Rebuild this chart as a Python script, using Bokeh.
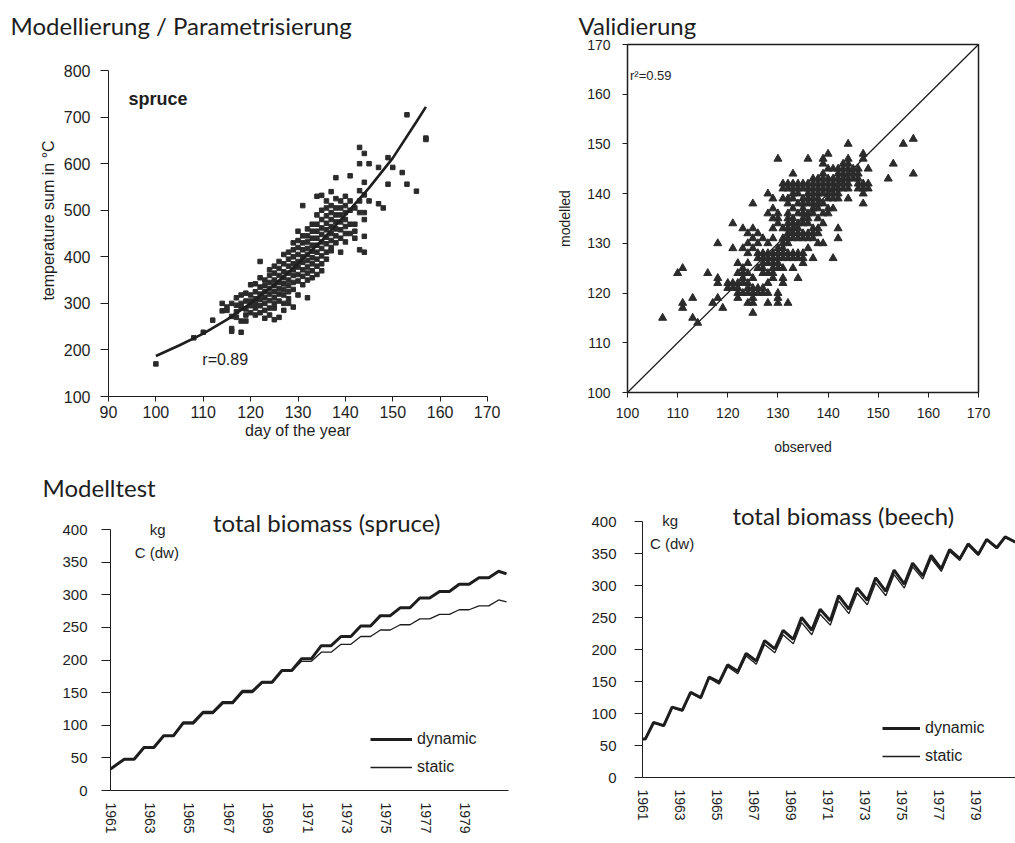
from bokeh.plotting import figure
from bokeh.layouts import column, row
from bokeh.models import Label, Legend, LegendItem, Range1d, FixedTicker, Title
from bokeh.embed import file_html
from bokeh.resources import INLINE

# ---------------------------------------------------------------- data
# spruce: day of bud burst vs. temperature sum (points grouped per day)
bud_days = [100, 108, 110, 112, 114, 115, 116, 117, 118, 119, 120, 121, 122, 123,
            124, 125, 126, 127, 128, 129, 130, 131, 132, 133, 134, 135, 136, 137,
            138, 139, 140, 141, 142, 143, 144, 145, 147, 148, 149, 150, 152, 153,
            155, 157]
bud_tsum = [
    [170], [226], [238], [264], [300, 284], [285, 292], [300, 272, 246, 240],
    [312, 296, 282, 270], [318, 300, 290, 262, 238], [322, 305, 288, 275, 262],
    [340, 318, 305, 295, 280], [342, 325, 310, 300, 290, 275],
    [390, 355, 335, 320, 308, 295, 280], [350, 338, 325, 312, 300, 285, 268],
    [372, 360, 345, 332, 320, 306, 290, 275],
    [380, 365, 350, 338, 325, 312, 300, 290, 265],
    [390, 375, 360, 345, 332, 320, 305, 270],
    [405, 385, 368, 355, 342, 330, 318, 300, 285],
    [410, 395, 380, 365, 350, 338, 325, 310, 300],
    [430, 415, 400, 385, 372, 360, 345, 330, 292],
    [455, 435, 420, 405, 390, 378, 362, 348, 318],
    [510, 445, 430, 415, 400, 388, 372, 358, 340],
    [460, 445, 432, 418, 405, 392, 378, 365, 350, 312],
    [470, 455, 440, 425, 412, 398, 385, 370, 355],
    [530, 490, 470, 455, 440, 425, 410, 395, 380, 362],
    [532, 500, 480, 462, 448, 432, 418, 402, 385, 370],
    [520, 505, 488, 472, 458, 442, 428, 410, 395],
    [540, 510, 495, 480, 465, 450, 435, 420, 413],
    [570, 525, 505, 490, 475, 460, 445, 430],
    [520, 505, 490, 475, 458, 440, 410],
    [530, 510, 495, 480, 465, 450, 432],
    [574, 520, 500, 470, 450], [505, 470, 455, 440],
    [635, 600, 542, 520, 495, 415], [622, 560, 533, 495, 480, 444, 410],
    [600, 520], [592, 514], [505], [613, 556], [592], [581], [556, 705],
    [541], [655, 652],
]
# fitted temperature-sum curve
fit_days = [100, 105, 110, 115, 120, 125, 130, 135, 140, 145, 150, 155, 157]
fit_tsum = [187, 210, 235, 265, 300, 340, 385, 435, 490, 548, 612, 690, 722]

# validation: observed vs. modelled day of bud burst (grouped per observed day)
obs_days = [107, 110, 111, 113, 114, 116, 117, 118, 119, 120, 121, 122, 123, 124,
            125, 126, 127, 128, 129, 130, 131, 132, 133, 134, 135, 136, 137, 138,
            139, 140, 141, 142, 143, 144, 145, 146, 147, 148, 152, 153, 155, 157]
mod_days = [
    [115], [124], [125, 118, 117], [119, 115], [114], [124], [118],
    [130, 123, 122, 119], [117], [122, 121], [134, 129, 122, 121],
    [126, 124, 122, 121, 120, 119], [133, 129, 125, 124, 123, 122, 120],
    [132, 130, 128, 126, 124, 122, 121, 120, 118],
    [138, 133, 131, 129, 123, 121, 120, 119, 118, 116],
    [132, 130, 128, 127, 125, 121, 120],
    [131, 128, 127, 126, 125, 124, 121, 120],
    [140, 136, 130, 128, 127, 126, 124, 122, 120, 118],
    [139, 137, 135, 133, 131, 128, 127, 126, 125, 124, 123],
    [147, 136, 135, 134, 129, 128, 127, 126, 125, 120, 119, 118],
    [142, 141, 139, 133, 131, 130, 129, 128, 127, 125, 123, 122],
    [142, 141, 139, 138, 136, 135, 134, 133, 132, 131, 130, 128, 127, 118],
    [144, 142, 141, 140, 139, 137, 135, 134, 133, 132, 131, 128, 127, 125],
    [142, 141, 140, 138, 136, 134, 133, 132, 131, 128, 127, 123],
    [142, 141, 139, 138, 137, 136, 135, 134, 132, 131, 128, 127, 126],
    [147, 142, 141, 140, 139, 138, 136, 135, 134, 132, 131, 129],
    [143, 142, 141, 140, 139, 138, 137, 136, 133, 132, 131, 127],
    [143, 142, 141, 140, 139, 138, 137, 135, 133, 132, 130],
    [147, 146, 144, 143, 142, 141, 140, 138, 136, 134, 130],
    [148, 145, 143, 142, 141, 140, 139, 137, 136],
    [145, 143, 142, 141, 140, 139, 137, 127],
    [145, 144, 143, 142, 141, 140, 139, 133, 131],
    [146, 145, 144, 143, 142, 141],
    [150, 147, 146, 145, 144, 143, 142, 141, 139],
    [145, 144, 143], [145, 144, 143, 142, 141],
    [148, 147, 142, 141, 140, 138], [145, 142, 141], [143], [146], [150],
    [151, 144],
]
one_to_one = [100, 170]

# total biomass, kg C (dw), 1961-1980
years = list(range(1961, 1981))
spruce_start = 33
spruce_dynamic = [48, 66, 84, 104, 120, 135, 152, 166, 184, 202,
                  222, 236, 252, 268, 280, 295, 305, 316, 326, 336]
spruce_static = [48, 65, 83, 102, 118, 133, 150, 165, 183, 198,
                 212, 224, 236, 246, 254, 263, 270, 277, 283, 292]
spruce_dynamic_end = 332
spruce_static_end = 289

beech_dynamic_peak = [86, 110, 133, 157, 176, 194, 214, 230, 250, 263,
                      284, 296, 312, 324, 335, 347, 356, 365, 372, 376]
beech_dynamic_low = [60, 81, 105, 125, 149, 166, 182, 201, 216, 230, 245,
                     263, 277, 291, 302, 315, 326, 342, 349, 359, 368]
beech_static_peak = [86, 109, 132, 155, 173, 190, 208, 223, 242, 255,
                     276, 288, 304, 317, 329, 342, 353, 363, 371, 375]
beech_static_low = [60, 80, 104, 123, 146, 162, 177, 195, 209, 223, 238,
                    256, 270, 284, 296, 310, 322, 339, 347, 358, 367]

year_ticks = list(range(1961, 1981, 2))

# ---------------------------------------------------------------- style
INK = "#1e1e1e"
HEAD_FONT = "Lato"
HEAD_SIZE = 24
AXIS_FONT = "Liberation Sans"


def base_figure(w, h, xr, yr, left, right, top, bottom):
    p = figure(width=w, height=h, x_range=Range1d(*xr), y_range=Range1d(*yr),
               output_backend="svg", toolbar_location=None,
               min_border_left=left, min_border_right=right,
               min_border_top=top, min_border_bottom=bottom)
    p.grid.visible = False
    p.outline_line_color = None
    p.background_fill_color = "white"
    p.border_fill_color = "white"
    return p


def style_axis(ax, ticks, size, standoff, tick_out, label="", label_size=15,
               label_standoff=5, bounds=None):
    ax.ticker = FixedTicker(ticks=ticks)
    if bounds is not None:
        ax.bounds = bounds
    ax.axis_line_color = INK
    ax.axis_line_width = 1
    ax.major_tick_line_color = INK if tick_out else None
    ax.major_tick_out = tick_out
    ax.major_tick_in = 0
    ax.minor_tick_line_color = None
    ax.major_label_text_font = AXIS_FONT
    ax.major_label_text_font_size = f"{size}px"
    ax.major_label_text_color = INK
    ax.major_label_standoff = standoff
    ax.axis_label = label
    ax.axis_label_text_font = AXIS_FONT
    ax.axis_label_text_font_size = f"{label_size}px"
    ax.axis_label_text_font_style = "normal"
    ax.axis_label_text_color = INK
    ax.axis_label_standoff = label_standoff


def add_text(p, x, y, text, size, font=AXIS_FONT, style="normal", align="left"):
    p.add_layout(Label(x=x, y=y, text=text, text_font=font,
                       text_font_size=f"{size}px", text_font_style=style,
                       text_align=align, text_baseline="middle",
                       text_color=INK))


def add_heading(p, text, offset, standoff):
    p.add_layout(Title(text=text, align="left", offset=offset, standoff=standoff,
                       text_font=HEAD_FONT, text_font_size=f"{HEAD_SIZE}px",
                       text_font_style="normal", text_color=INK), "above")


# ---------------------------------------------------------------- panel 1
# frame top is shared with panel 2; the y axis keeps its own extent
p1 = base_figure(500, 464, (90, 170), (100, 856), 108, 13, 44, 68)
style_axis(p1.xaxis[0], list(range(90, 171, 10)), 16, 4, 5,
           "day of the year", 16, 1)
style_axis(p1.yaxis[0], list(range(100, 801, 100)), 16, 10, 8,
           "temperature sum in °C", 16, 4, bounds=(100, 800))

px = [d for d, vals in zip(bud_days, bud_tsum) for _ in vals]
py = [v for vals in bud_tsum for v in vals]
p1.scatter(px, py, marker="square", size=4.5, color="#2b2b2b")
p1.line(fit_days, fit_tsum, line_width=2.6, color=INK)

add_heading(p1, "Modellierung / Parametrisierung", -98, 10)
add_text(p1, 94.2, 739, "spruce", 18, AXIS_FONT, "bold")
add_text(p1, 109.8, 180, "r=0.89", 16)

# ---------------------------------------------------------------- panel 2
p2 = base_figure(515, 460, (100, 170), (100, 170), 127, 37, 44, 68)
p2.outline_line_color = INK
p2.outline_line_width = 1.5
style_axis(p2.xaxis[0], list(range(100, 171, 10)), 14, 10, 5,
           "observed", 14, 18)
style_axis(p2.yaxis[0], list(range(100, 171, 10)), 14, 12, 5,
           "modelled", 14, 11)

ox = [d for d, vals in zip(obs_days, mod_days) for _ in vals]
oy = [v for vals in mod_days for v in vals]
p2.line(one_to_one, one_to_one, line_width=1.3, color=INK)
p2.scatter(ox, oy, marker="triangle", size=8, color="#2b2b2b")

add_heading(p2, "Validierung", -49, 10)
add_text(p2, 100.5, 163.8, "r²=0.59", 13)


# ---------------------------------------------------------------- biomass
def spruce_series(start, levels, end):
    xs, ys = [years[0]], [start]
    for y, lv in zip(years, levels):
        xs += [y + 0.7, y + 1.2]
        ys += [lv, lv]
    xs[-1], ys[-1] = years[-1] + 1.1, end
    return xs, ys


def beech_series(lows, peaks):
    xs, ys = [years[0]], [lows[0]]
    for k, y in enumerate(years):
        xs += [y + 0.15, y + 0.6]
        ys += [lows[k], peaks[k]]
    xs.append(years[-1] + 1.15)
    ys.append(lows[-1])
    return xs, ys


def biomass_legend(p, r_dyn, r_sta, loc, glyph_w):
    leg = Legend(items=[LegendItem(label="dynamic", renderers=[r_dyn]),
                        LegendItem(label="static", renderers=[r_sta])],
                 location=loc, orientation="vertical",
                 border_line_color=None, background_fill_alpha=0,
                 padding=0, margin=0, spacing=10,
                 glyph_width=glyph_w, glyph_height=18, label_height=18,
                 label_standoff=5, label_text_font=AXIS_FONT,
                 label_text_font_size="16px", label_text_color=INK)
    p.add_layout(leg)


p3 = base_figure(510, 379, (1961, 1981.2), (0, 436.8), 110, 2, 41, 53)
style_axis(p3.xaxis[0], year_ticks, 14, 12, 0)
p3.xaxis[0].major_label_orientation = "vertical"
style_axis(p3.yaxis[0], list(range(0, 401, 50)), 15, 14, 9, bounds=(0, 400))

sx, sy = spruce_series(spruce_start, spruce_dynamic, spruce_dynamic_end)
tx, ty = spruce_series(spruce_start, spruce_static, spruce_static_end)
r_sd = p3.line(sx, sy, line_width=3, color=INK)
r_ss = p3.line(tx, ty, line_width=1.3, color=INK)
biomass_legend(p3, r_sd, r_ss, (260, 14), 42)

add_heading(p3, "Modelltest", -68, 8)
add_text(p3, 1966.2, 410, "total biomass (spruce)", HEAD_SIZE, HEAD_FONT)
add_text(p3, 1963.4, 400, "kg", 15, align="center")
add_text(p3, 1963.35, 365, "C (dw)", 15, align="center")

p4 = base_figure(505, 366, (1961, 1981.16), (0, 425), 132, 0, 41, 53)
style_axis(p4.xaxis[0], year_ticks, 14, 12, 0)
p4.xaxis[0].major_label_orientation = "vertical"
style_axis(p4.yaxis[0], list(range(0, 401, 50)), 15, 18, 8, bounds=(0, 400))

bx, by = beech_series(beech_dynamic_low, beech_dynamic_peak)
cx, cy = beech_series(beech_static_low, beech_static_peak)
r_bd = p4.line(bx, by, line_width=3, color=INK)
r_bs = p4.line(cx, cy, line_width=1.3, color=INK)
biomass_legend(p4, r_bd, r_bs, (240, 12), 38)

add_text(p4, 1965.86, 409, "total biomass (beech)", HEAD_SIZE, HEAD_FONT)
add_text(p4, 1962.5, 401, "kg", 15, align="center")
add_text(p4, 1962.6, 366, "C (dw)", 15, align="center")

layout = column(row(p1, p2), row(p3, p4))
open("out.html", "w").write(file_html(layout, INLINE))
